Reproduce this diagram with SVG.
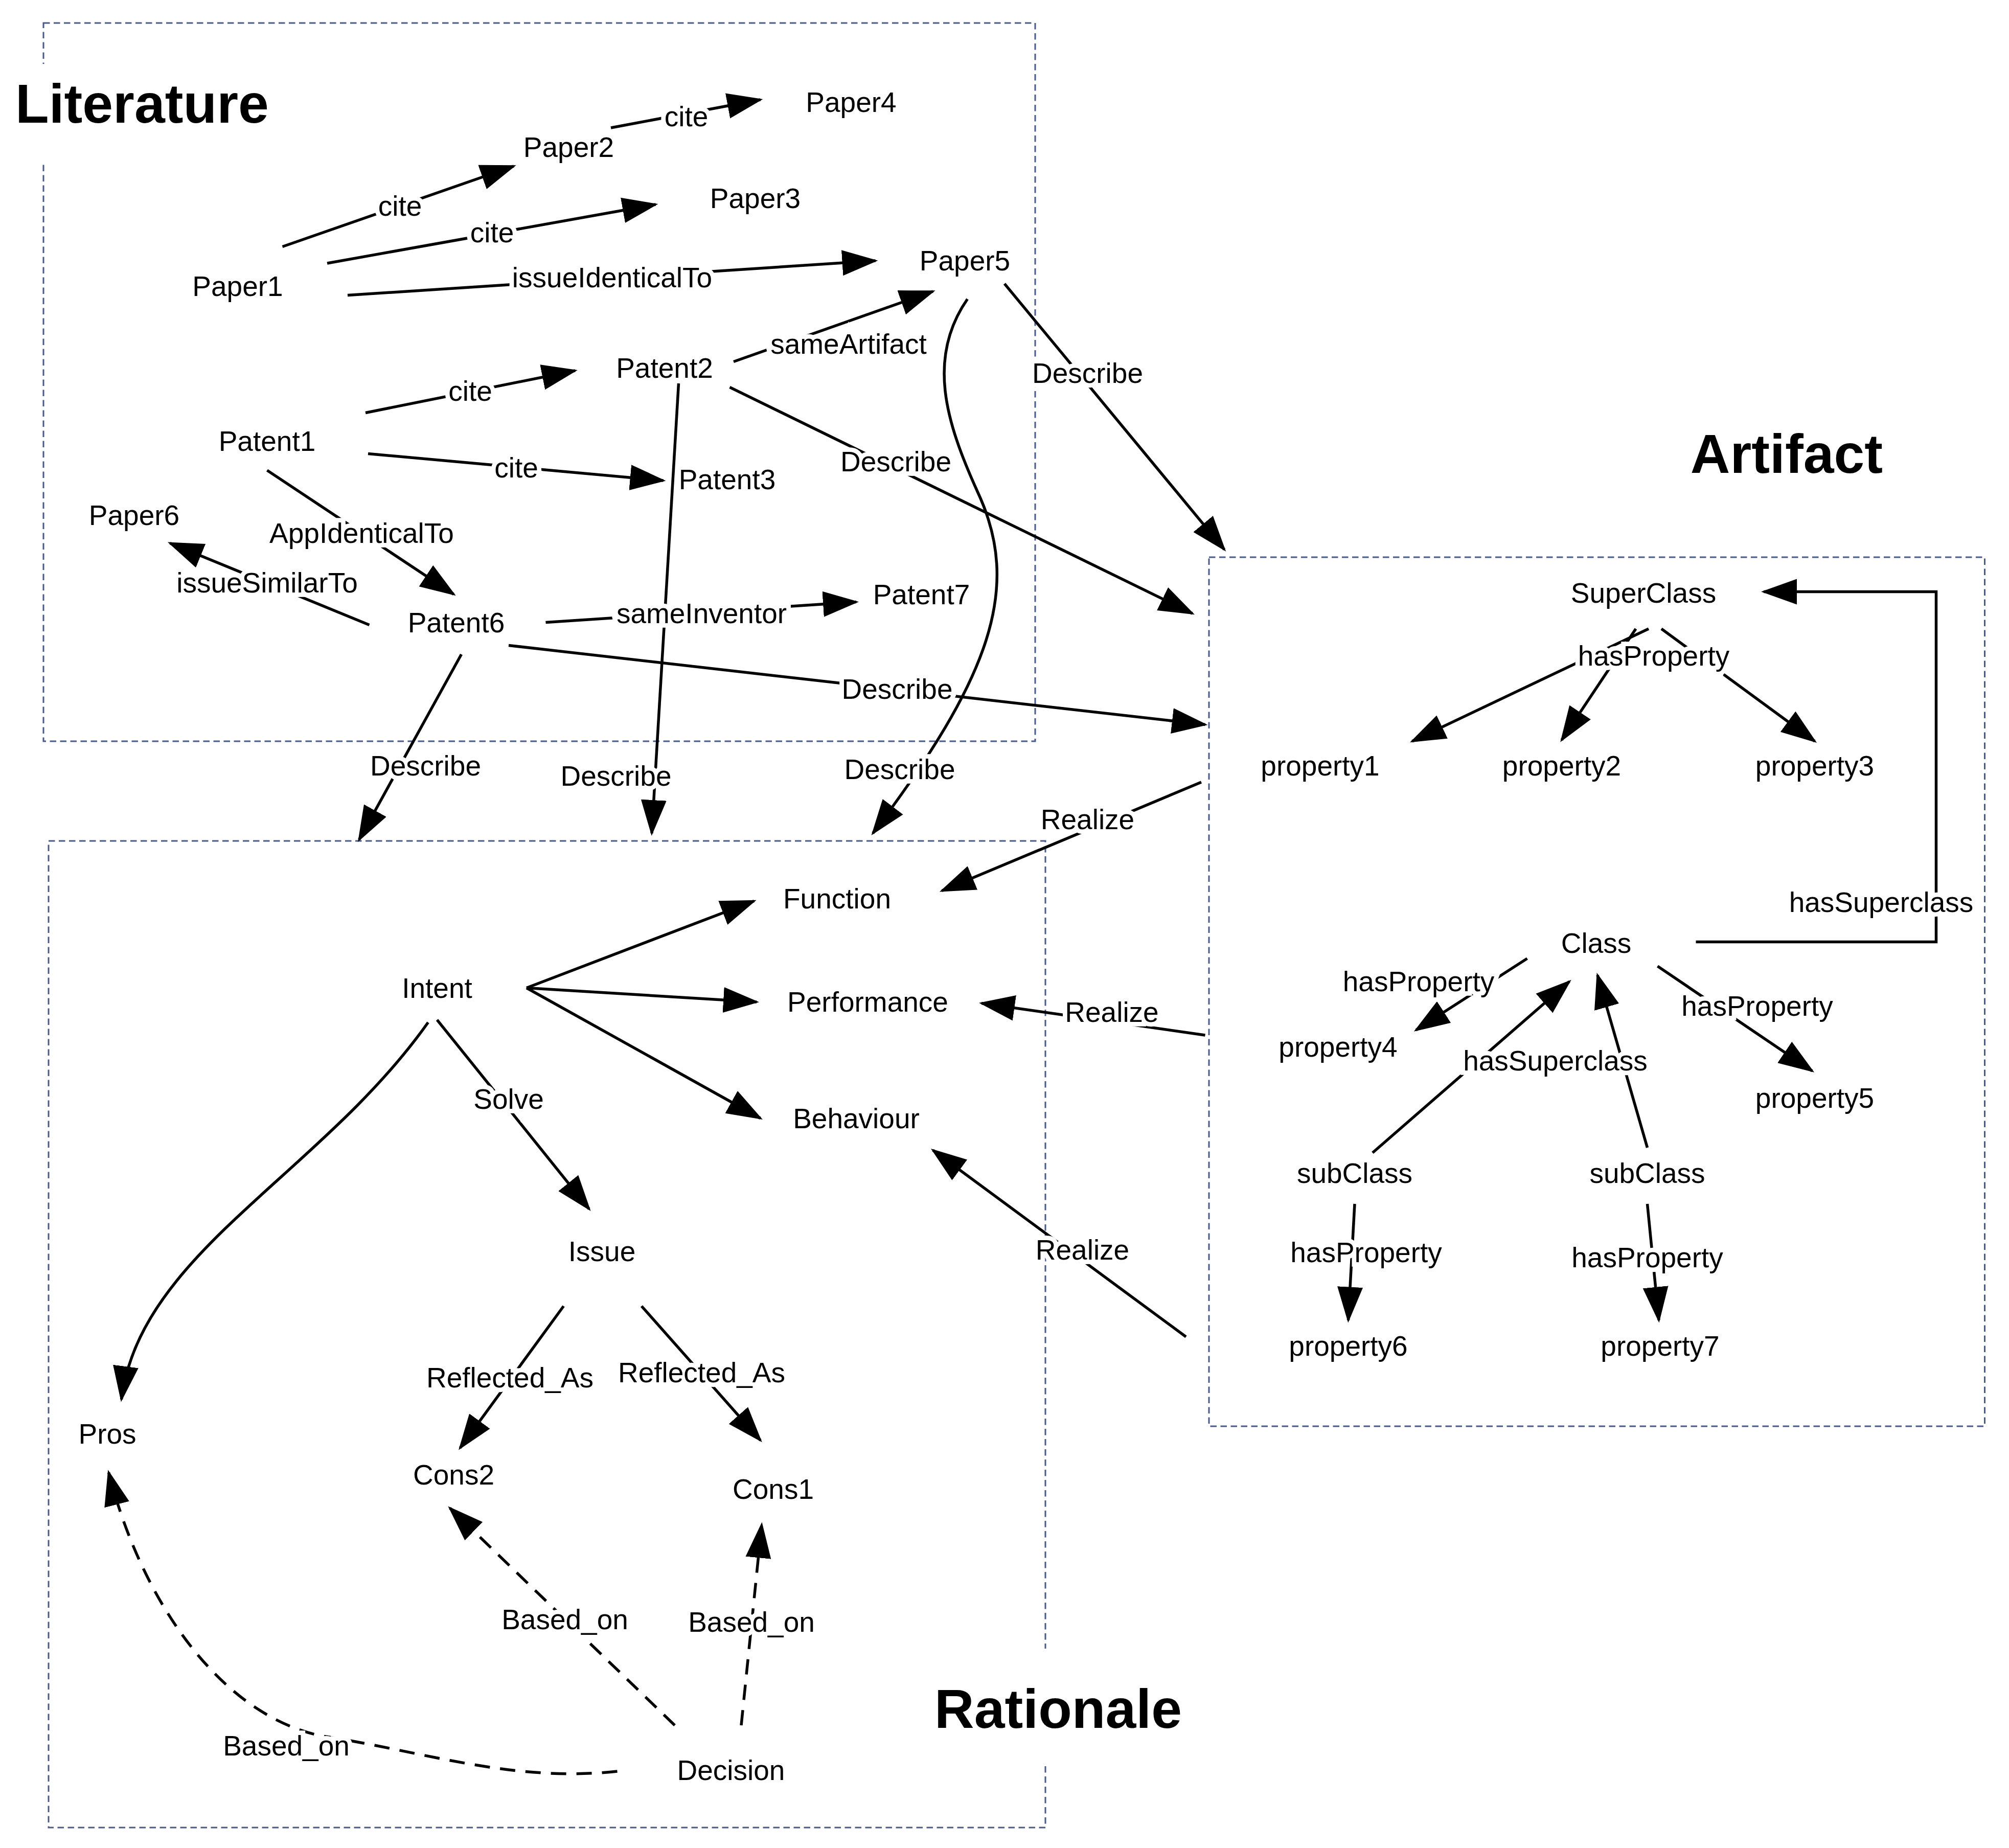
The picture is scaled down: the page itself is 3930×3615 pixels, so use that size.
<svg xmlns="http://www.w3.org/2000/svg" width="3930" height="3615" viewBox="0 0 3930 3615">
<style>
.box{fill:none;stroke:#4a5a8c;stroke-width:1.2;stroke-dasharray:5 3}
.t{font-family:"Liberation Sans",Arial,sans-serif;font-size:22px;fill:#000;text-anchor:middle;dominant-baseline:central}
.l{stroke:#fff;stroke-width:7;paint-order:stroke}
.title{font-family:"Liberation Sans",Arial,sans-serif;font-size:43px;font-weight:bold;fill:#000}
.e{fill:none;stroke:#000;stroke-width:2.2;marker-end:url(#a)}
.d{fill:none;stroke:#000;stroke-width:2.2;stroke-dasharray:12 8;marker-end:url(#a)}
</style>
<defs>
<marker id="a" markerUnits="userSpaceOnUse" markerWidth="30" markerHeight="24" refX="26" refY="10" orient="auto" viewBox="0 0 30 20"><path d="M0,0 L28,10 L0,20 Z" fill="#000"/></marker>
</defs>
<rect width="3930" height="3615" fill="#fff"/>
<g transform="scale(2.5)">
<g id="boxes">
<rect class="box" x="34" y="18" width="776" height="562"/>
<rect class="box" x="946" y="436" width="607" height="680"/>
<rect class="box" x="38" y="658" width="780" height="772"/>
<rect x="8" y="50" width="215" height="78" fill="#fff"/>
<rect x="725" y="1290" width="210" height="90" fill="#fff"/>
<text class="title" x="12" y="96">Literature</text>
<text class="title" x="1398" y="370" text-anchor="middle">Artifact</text>
<text class="title" x="828" y="1352" text-anchor="middle">Rationale</text>
</g>
<g id="connectors">
<path class="e" d="M478,100 L595,78"/>
<path class="e" d="M221,193 L402,130"/>
<path class="e" d="M256,206 L513,160"/>
<path class="e" d="M272,231 L685,204"/>
<path class="e" d="M786,222 L958,430"/>
<path class="e" d="M574,283 L730,228"/>
<path class="e" d="M286,323 L450,290"/>
<path class="e" d="M288,355 L519,376"/>
<path class="e" d="M571,303 L933,480"/>
<path class="e" d="M531,300 L510,652"/>
<path class="e" d="M209,368 L355,465"/>
<path class="e" d="M289,489 L133,425"/>
<path class="e" d="M427,487 L670,471"/>
<path class="e" d="M398,505 L943,567"/>
<path class="e" d="M361,512 L281,657"/>
<path class="e" d="M757,234 C725,280 740,330 765,385 C800,460 775,530 683,652"/>
<path class="e" d="M1290,492 L1105,580"/>
<path class="e" d="M1280,492 L1222,579"/>
<path class="e" d="M1300,492 L1420,580"/>
<path class="e" d="M1327,737 L1515,737 L1515,463 L1380,463"/>
<path class="e" d="M1195,750 L1108,806"/>
<path class="e" d="M1297,756 L1418,838"/>
<path class="e" d="M1074,902 L1228,768"/>
<path class="e" d="M1289,898 L1250,763"/>
<path class="e" d="M1060,942 L1055,1033"/>
<path class="e" d="M1289,942 L1298,1033"/>
<path class="e" d="M940,612 L737,697"/>
<path class="e" d="M943,810 L768,785"/>
<path class="e" d="M928,1046 L730,900"/>
<path class="e" d="M412,773 L590,705"/>
<path class="e" d="M412,773 L592,784"/>
<path class="e" d="M412,773 L595,875"/>
<path class="e" d="M342,798 L461,946"/>
<path class="e" d="M335,800 C250,920 110,980 95,1095"/>
<path class="e" d="M441,1022 L360,1133"/>
<path class="e" d="M502,1022 L595,1127"/>
<path class="d" d="M528,1350 L352,1180"/>
<path class="d" d="M580,1350 L596,1193"/>
<path class="d" d="M483,1386 C400,1395 330,1370 250,1358 C170,1340 110,1250 85,1152"/>
</g>
<g id="edge-labels">
<text class="t l" x="537" y="91">cite</text>
<text class="t l" x="313" y="161">cite</text>
<text class="t l" x="385" y="182">cite</text>
<text class="t l" x="479" y="217">issueIdenticalTo</text>
<text class="t l" x="851" y="292">Describe</text>
<text class="t l" x="664" y="269">sameArtifact</text>
<text class="t l" x="368" y="306">cite</text>
<text class="t l" x="404" y="366">cite</text>
<text class="t l" x="701" y="361">Describe</text>
<text class="t l" x="482" y="607">Describe</text>
<text class="t l" x="283" y="417">AppIdenticalTo</text>
<text class="t l" x="209" y="456">issueSimilarTo</text>
<text class="t l" x="549" y="480">sameInventor</text>
<text class="t l" x="702" y="539">Describe</text>
<text class="t l" x="333" y="599">Describe</text>
<text class="t l" x="704" y="602">Describe</text>
<text class="t l" x="1294" y="513">hasProperty</text>
<text class="t l" x="1472" y="706">hasSuperclass</text>
<text class="t l" x="1110" y="768">hasProperty</text>
<text class="t l" x="1375" y="787">hasProperty</text>
<text class="t l" x="1217" y="830">hasSuperclass</text>
<text class="t l" x="1069" y="980">hasProperty</text>
<text class="t l" x="1289" y="984">hasProperty</text>
<text class="t l" x="851" y="641">Realize</text>
<text class="t l" x="870" y="792">Realize</text>
<text class="t l" x="847" y="978">Realize</text>
<text class="t l" x="398" y="860">Solve</text>
<text class="t l" x="399" y="1078">Reflected_As</text>
<text class="t l" x="549" y="1074">Reflected_As</text>
<text class="t l" x="442" y="1267">Based_on</text>
<text class="t l" x="588" y="1269">Based_on</text>
<text class="t l" x="224" y="1366">Based_on</text>
</g>
<g id="n-paper4"><text class="t l" x="666" y="80">Paper4</text></g>
<g id="n-paper2"><text class="t l" x="445" y="115">Paper2</text></g>
<g id="n-paper3"><text class="t l" x="591" y="155">Paper3</text></g>
<g id="n-paper1"><text class="t l" x="186" y="224">Paper1</text></g>
<g id="n-paper5"><text class="t l" x="755" y="204">Paper5</text></g>
<g id="n-patent2"><text class="t l" x="520" y="288">Patent2</text></g>
<g id="n-patent1"><text class="t l" x="209" y="345">Patent1</text></g>
<g id="n-patent3"><text class="t l" x="569" y="375">Patent3</text></g>
<g id="n-paper6"><text class="t l" x="105" y="403">Paper6</text></g>
<g id="n-patent6"><text class="t l" x="357" y="487">Patent6</text></g>
<g id="n-patent7"><text class="t l" x="721" y="465">Patent7</text></g>
<g id="n-superclass"><text class="t l" x="1286" y="464">SuperClass</text></g>
<g id="n-property1"><text class="t l" x="1033" y="599">property1</text></g>
<g id="n-property2"><text class="t l" x="1222" y="599">property2</text></g>
<g id="n-property3"><text class="t l" x="1420" y="599">property3</text></g>
<g id="n-class"><text class="t l" x="1249" y="738">Class</text></g>
<g id="n-property4"><text class="t l" x="1047" y="819">property4</text></g>
<g id="n-property5"><text class="t l" x="1420" y="859">property5</text></g>
<g id="n-subclass1"><text class="t l" x="1060" y="918">subClass</text></g>
<g id="n-subclass2"><text class="t l" x="1289" y="918">subClass</text></g>
<g id="n-property6"><text class="t l" x="1055" y="1053">property6</text></g>
<g id="n-property7"><text class="t l" x="1299" y="1053">property7</text></g>
<g id="n-function"><text class="t l" x="655" y="703">Function</text></g>
<g id="n-performance"><text class="t l" x="679" y="784">Performance</text></g>
<g id="n-behaviour"><text class="t l" x="670" y="875">Behaviour</text></g>
<g id="n-intent"><text class="t l" x="342" y="773">Intent</text></g>
<g id="n-issue"><text class="t l" x="471" y="979">Issue</text></g>
<g id="n-cons2"><text class="t l" x="355" y="1154">Cons2</text></g>
<g id="n-cons1"><text class="t l" x="605" y="1165">Cons1</text></g>
<g id="n-pros"><text class="t l" x="84" y="1122">Pros</text></g>
<g id="n-decision"><text class="t l" x="572" y="1385">Decision</text></g>
</g>
</svg>
